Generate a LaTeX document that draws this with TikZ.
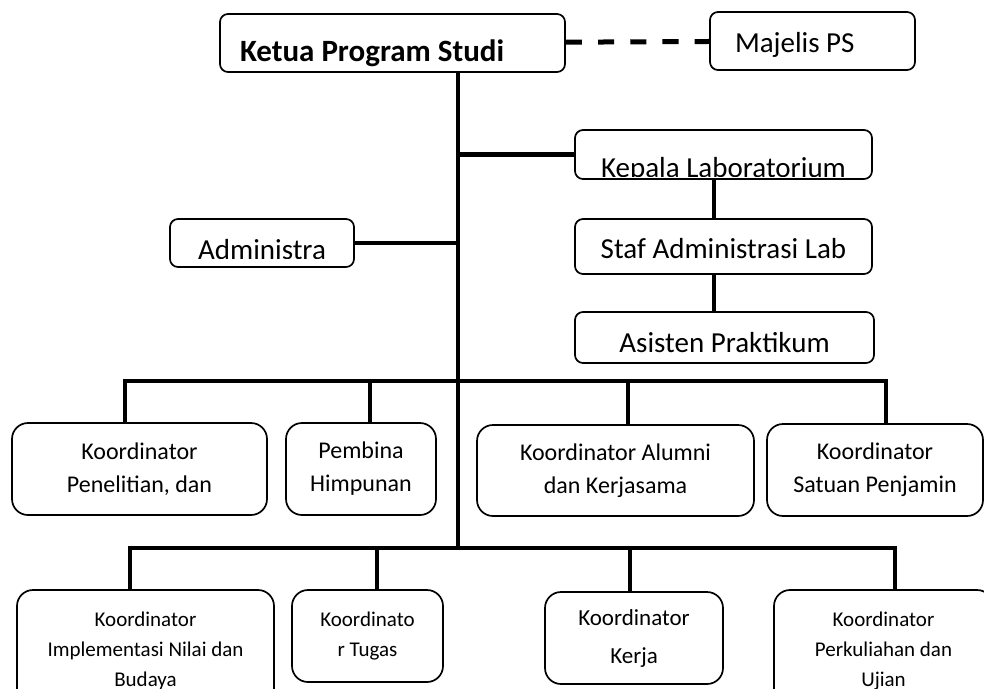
\documentclass[tikz,border=0pt]{standalone}
\usepackage{fontspec}
\setmainfont{Carlito}

\tikzset{
	kotak/.style={draw, line width=1.7pt, rounded corners=8pt, inner sep=0pt, align=center},
	kotakbawah/.style={kotak, rounded corners=16pt},
	teksbesar/.style={font=\fontsize{29}{35}\selectfont},
	tekssedang/.style={font=\fontsize{24}{33}\selectfont},
	tekskecil/.style={font=\fontsize{21}{30}\selectfont},
	garis/.style={line width=4.5pt},
	garislab/.style={line width=3.5pt},
	putus/.style={line width=5pt, dash pattern=on 16.1pt off 16.1pt},
	teksklip/.style={draw=none, fill=none, inner sep=0pt, anchor=base, teksbesar}
}

\begin{document}
\begin{tikzpicture}[x=1pt, y=-1pt]
		\path[use as bounding box] (0,0) rectangle (984,688);
		\clip (0,0) rectangle (984,688);

		\node[kotak, font=\bfseries\fontsize{31}{37}\selectfont, minimum width=345pt, minimum height=58pt, text width=305pt, align=flush left, text height=36pt, text depth=0pt] (ketua) at (392.5,43) {Ketua Program Studi};
		\node[kotak, teksbesar, minimum width=205pt, minimum height=58pt, text width=155pt, align=flush left, text height=22pt, text depth=0pt] (majelis) at (812.5,41) {Majelis PS};

		\node[kotak, minimum width=297pt, minimum height=49pt, path picture={
			\clip ([yshift=3pt]path picture bounding box.south west) rectangle (path picture bounding box.north east);
			\node[teksklip] (kepalateks) at ([yshift=2pt]path picture bounding box.south) {Kepala Laboratorium};
		}] (kepala) at (723.5,154.5) {};
		\node[kotak, minimum width=184pt, minimum height=48pt, path picture={
			\clip ([yshift=9pt]path picture bounding box.south west) rectangle (path picture bounding box.north east);
			\node[teksklip] (admteks) at ([yshift=8pt]path picture bounding box.south) {Administra};
		}] (adm) at (262,243) {};
		\node[kotak, teksbesar, minimum width=297pt, minimum height=55pt, text height=23pt, text depth=0pt] (staf) at (723.5,246.5) {Staf Administrasi Lab};
		\node[kotak, teksbesar, minimum width=299pt, minimum height=51pt, text height=29pt, text depth=0pt] (asisten) at (724.5,337.5) {Asisten Praktikum};

		\node[kotakbawah, tekssedang, minimum width=255pt, minimum height=92pt] (penelitian) at (139.5,469) {Koordinator\\Penelitian, dan};
		\node[kotakbawah, tekssedang, minimum width=150pt, minimum height=92pt] (pembina) at (361,469) {Pembina\\Himpunan};
		\node[kotakbawah, tekssedang, minimum width=277pt, minimum height=91pt] (alumni) at (615.5,470.5) {Koordinator Alumni\\dan Kerjasama};
		\node[kotakbawah, tekssedang, minimum width=216pt, minimum height=92pt] (spm) at (875,470) {Koordinator\\Satuan Penjamin};

		\node[kotakbawah, tekskecil, minimum width=257pt, minimum height=122pt] (nilai) at (145.5,651) {Koordinator\\Implementasi Nilai dan\\Budaya};
		\node[kotakbawah, tekskecil, minimum width=151pt, minimum height=92pt] (tugas) at (367.5,636) {Koordinato\\r Tugas};
		\node[kotakbawah, font=\fontsize{23}{38}\selectfont, minimum width=178pt, minimum height=92pt] (kerja) at (634,638) {Koordinator\\Kerja};
		\node[kotakbawah, tekskecil, minimum width=219pt, minimum height=122pt] (kuliah) at (883.5,651) {Koordinator\\Perkuliahan dan\\Ujian};

		\coordinate (batang) at (458,0);
		\coordinate (lab) at (714,0);
		\coordinate (b1a) at (125,381);
		\coordinate (b1b) at (370,381);
		\coordinate (b1c) at (628,381);
		\coordinate (b1d) at (886,381);
		\coordinate (b2a) at (130,548);
		\coordinate (b2b) at (377,548);
		\coordinate (b2c) at (630,548);
		\coordinate (b2d) at (895,548);

		\draw[putus] (ketua) -- (majelis);
		\draw[garis] (ketua.south -| batang) -- (b2a -| batang);
		\draw[garis] (kepala.west) -- (kepala.west -| batang);
		\draw[garis] (adm.east) -- (adm.east -| batang);
		\draw[garislab] (kepala.south -| lab) -- (staf.north -| lab);
		\draw[garislab] (staf.south -| lab) -- (asisten.north -| lab);

		\draw[garis] (b1a |- penelitian.north) -- (b1a) -- (b1d) -- (b1d |- spm.north);
		\draw[garis] (b1b) -- (b1b |- pembina.north);
		\draw[garis] (b1c) -- (b1c |- alumni.north);

		\draw[garis] (b2a |- nilai.north) -- (b2a) -- (b2d) -- (b2d |- kuliah.north);
		\draw[garis] (b2b) -- (b2b |- tugas.north);
		\draw[garis] (b2c) -- (b2c |- kerja.north);
\end{tikzpicture}
\end{document}
